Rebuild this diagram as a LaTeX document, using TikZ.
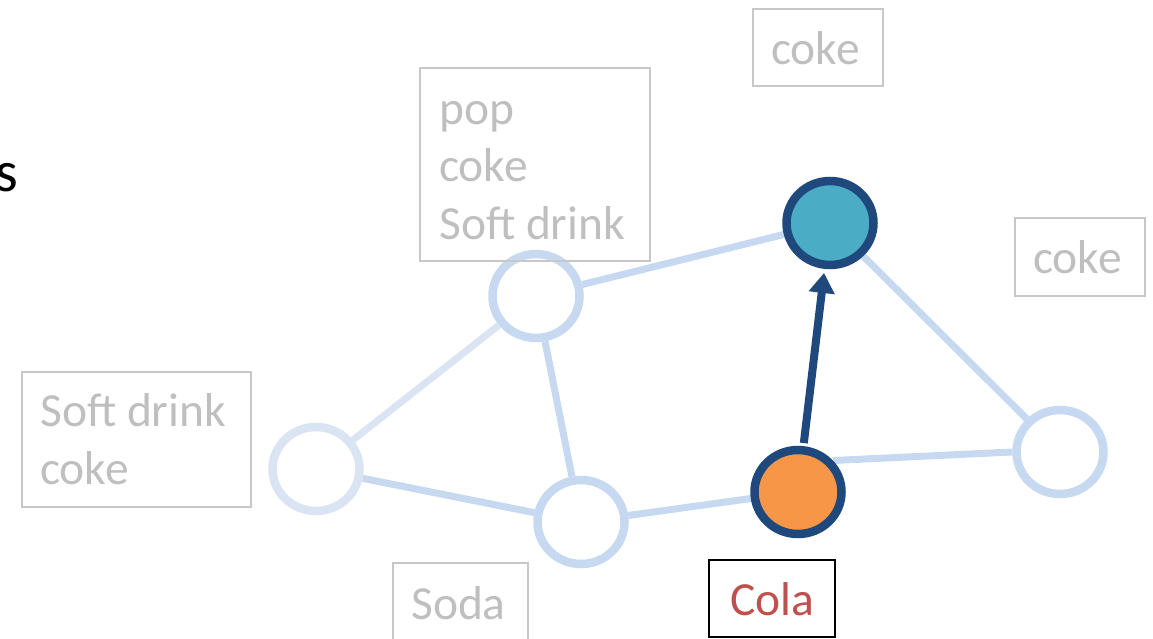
\documentclass[tikz,border=0pt]{standalone}
\usepackage{fontspec}
\setmainfont{Carlito}
\usetikzlibrary{shapes.geometric,arrows.meta,backgrounds}

\definecolor{ringlight}{HTML}{C6D9F0}
\definecolor{ringpale}{HTML}{DAE4F2}
\definecolor{ringdark}{HTML}{1F497D}
\definecolor{tealfill}{HTML}{4BACC6}
\definecolor{orangefill}{HTML}{F79646}
\definecolor{labelgray}{HTML}{BFBFBF}
\definecolor{boxgray}{HTML}{C8C8C8}
\definecolor{colared}{HTML}{C0504D}

\tikzset{
  vertex/.style={ellipse, draw=ringlight, line width=8.5pt, fill=white,
    minimum width=87pt, minimum height=84pt, inner sep=0pt},
  pale/.style={draw=ringpale},
  hot/.style={draw=ringdark},
  link/.style={draw=ringlight, line width=7pt},
  palelink/.style={draw=ringpale, line width=7pt},
  labelbox/.style={rectangle, draw=boxgray, line width=1.3pt, inner sep=0pt},
  labeltext/.style={anchor=base west, inner sep=0pt, text=labelgray,
    font=\fontsize{47.5}{57}\selectfont},
  walk/.style={draw=ringdark, line width=8pt,
    -{Triangle[length=20pt,width=25pt]}}
}

\begin{document}
\begin{tikzpicture}[x=1pt,y=-1pt]
  \useasboundingbox (0,0) rectangle (1153,639);

  % word fragment at the left edge
  \node[anchor=base east, inner sep=0pt, font=\fontsize{58}{60}\selectfont] (frag) at (18,192) {s};

  % graph vertices
  \node[vertex, pale]  (a) at (316,469) {};
  \node[vertex]        (b) at (536,296) {};
  \node[vertex]        (c) at (581,522) {};
  \node[vertex, hot, fill=orangefill] (d) at (798,492) {};
  \node[vertex, hot, fill=tealfill]   (e) at (830,223) {};
  \node[vertex]        (f) at (1060,452) {};

  % undirected edges behind the vertices
  \begin{scope}[on background layer]
    \draw[palelink] (a) -- (b);
    \draw[link] (a) -- (c);
    \draw[link] (b) -- (c);
    \draw[link] (b) -- (e);
    \draw[link] (c) -- (d);
    \draw[link] (d.42) -- (f.180);
    \draw[link] (e) -- (f);
  \end{scope}

  % directed step from the orange vertex to the teal one
  \draw[walk, shorten <=3pt, shorten >=4pt] (d) -- (e);

  % label boxes
  \node[labelbox, minimum width=130pt, minimum height=77pt] (btop) at (818,47.5) {};
  \node[labeltext] (ttop) at (771,65) {coke};

  \node[labelbox, minimum width=230pt, minimum height=193pt] (bpop) at (535,164.5) {};
  \node[labeltext] (tpop1) at (439,125) {pop};
  \node[labeltext] (tpop2) at (439,182) {coke};
  \node[labeltext] (tpop3) at (439,239) {Soft drink};

  \node[labelbox, minimum width=130pt, minimum height=78pt] (bright) at (1080,257) {};
  \node[labeltext] (tright) at (1033,273) {coke};

  \node[labelbox, minimum width=229pt, minimum height=135pt] (bsoft) at (136.5,439.5) {};
  \node[labeltext] (tsoft1) at (40,426) {Soft drink};
  \node[labeltext] (tsoft2) at (40,484) {coke};

  \node[labelbox, minimum width=135pt, minimum height=77pt] (bsoda) at (460.5,601.5) {};
  \node[labeltext] (tsoda) at (411,619) {Soda};

  \node[labelbox, draw=black, line width=1.1pt,
    minimum width=126pt, minimum height=77pt] (bcola) at (772,598.5) {};
  \node[labeltext, text=colared] (tcola) at (730,615) {Cola};
\end{tikzpicture}
\end{document}
